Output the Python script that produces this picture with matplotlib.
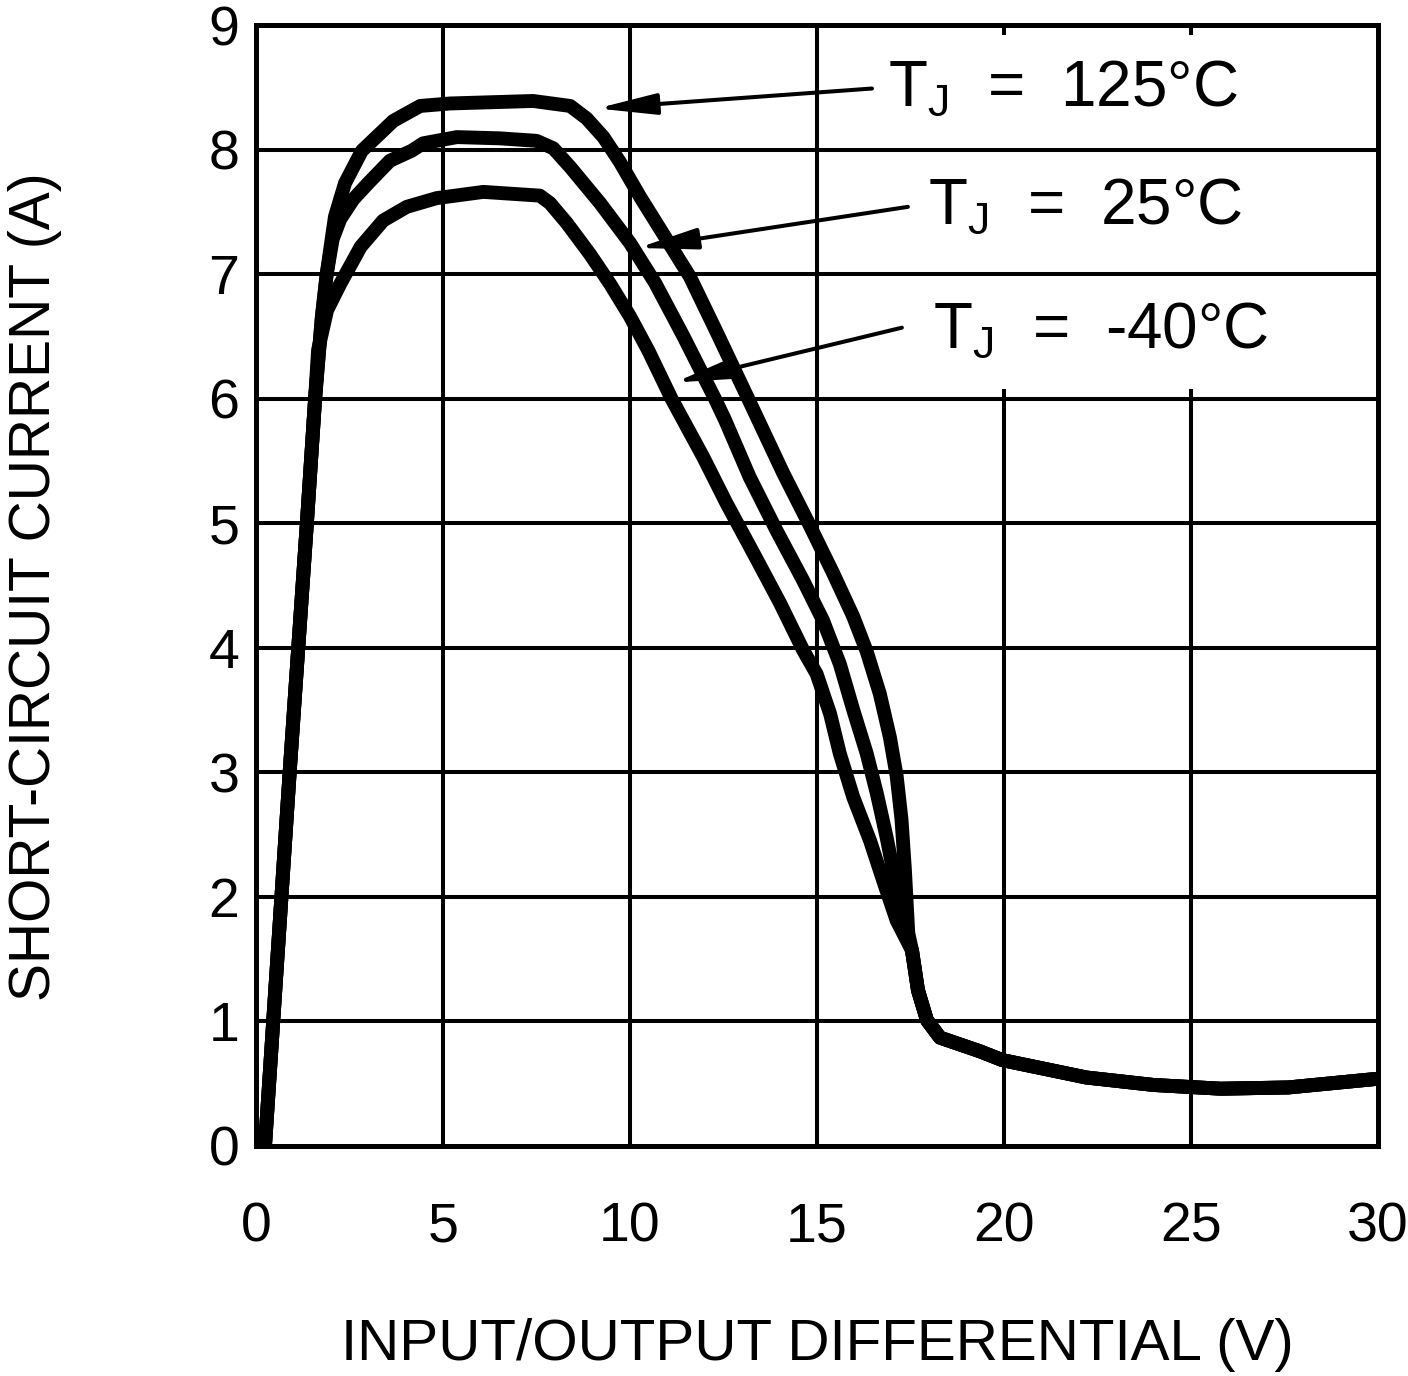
import matplotlib
matplotlib.use("Agg")
import matplotlib.pyplot as plt

plt.rcParams['font.family'] = ['Liberation Sans', 'DejaVu Sans']

# readings (V, A)
rise_x = [0.24, 0.46, 0.9, 1.36, 1.58]
rise_y = [0, 1, 3, 5, 6]

tail_x = [17.54, 17.7, 17.94, 18.29, 19.36, 19.95, 22.2, 24.0, 25.8, 27.6, 30.0]
tail_y = [1.57, 1.25, 1.01, 0.87, 0.76, 0.69, 0.55, 0.49, 0.46, 0.47, 0.54]

hot_x = [1.76, 1.89, 1.98, 2.11, 2.38, 2.83, 3.67, 4.39, 5.19, 7.41, 8.40, 8.84,
         9.29, 9.73, 10.27, 11.6, 12.34, 13.16, 14.1, 14.81, 15.43, 15.97,
         16.33, 16.68, 16.95, 17.13, 17.26, 17.35, 17.44]
hot_y = [6.65, 7.0, 7.19, 7.46, 7.73, 7.99, 8.23, 8.35, 8.37, 8.39, 8.35, 8.25,
         8.10, 7.90, 7.62, 6.98, 6.52, 6.0, 5.4, 4.98, 4.6, 4.25,
         3.97, 3.63, 3.28, 2.97, 2.62, 2.22, 1.71]

room_x = [1.76, 1.89, 2.05, 2.25, 2.6, 3.0, 3.58, 4.16, 4.47, 5.37, 6.52, 7.50,
          7.95, 8.40, 9.2, 10.0, 10.67, 11.43, 12.27, 12.54, 13.2, 13.92, 14.63,
          15.16, 15.61, 15.97, 16.33, 16.6, 16.86, 17.09, 17.26]
room_y = [6.65, 7.0, 7.28, 7.44, 7.6, 7.73, 7.91, 7.99, 8.05, 8.10, 8.09, 8.07,
          8.01, 7.86, 7.57, 7.25, 6.93, 6.5, 6.0, 5.83, 5.37, 4.94, 4.54,
          4.22, 3.87, 3.50, 3.15, 2.83, 2.48, 2.13, 1.81]

cold_x = [1.66, 1.9, 2.25, 2.8, 3.4, 4.03, 4.83, 6.08, 7.59, 7.86, 8.31,
          8.93, 9.47, 10.0, 10.5, 11.11, 11.96, 12.58, 13.3, 14.01, 14.63, 14.99,
          15.35, 15.61, 15.97, 16.42, 16.77, 17.13]
cold_y = [6.39, 6.71, 6.92, 7.22, 7.43, 7.54, 7.61, 7.66, 7.63, 7.57, 7.41,
          7.16, 6.92, 6.66, 6.38, 6.0, 5.53, 5.16, 4.76, 4.36, 3.98, 3.79,
          3.47, 3.15, 2.80, 2.45, 2.13, 1.81]

labels = ["T$_\\mathregular{J}$  =  125°C", "T$_\\mathregular{J}$  =  25°C",
          "T$_\\mathregular{J}$  =  -40°C"]

x_ticks = [0, 5, 10, 15, 20, 25, 30]
y_ticks = [0, 1, 2, 3, 4, 5, 6, 7, 8, 9]

fig = plt.figure(figsize=(14.08, 13.76), dpi=100)
ax = fig.add_axes([256 / 1408, 1 - 1146 / 1376, 1122 / 1408, 1121 / 1376])
ax.set_xlim(0, 30)
ax.set_ylim(0, 9)

# grid: the two right verticals are cut where the labels sit
ax.hlines(y_ticks[1:-1], 0, 30, color='black', lw=2.9, zorder=1)
ax.vlines([5, 10, 15], 0, 9, color='black', lw=2.9, zorder=1)
ax.vlines([20, 25], 0, 6.08, color='black', lw=2.9, zorder=1)
ax.vlines([20, 25], 8.92, 9, color='black', lw=2.9, zorder=1)

for cx, cy in [(hot_x, hot_y), (room_x, room_y), (cold_x, cold_y)]:
    ax.plot(rise_x + cx + tail_x, rise_y + cy + tail_y, color='black', lw=10,
            solid_joinstyle='round', solid_capstyle='butt', zorder=3)

arrow = dict(arrowstyle="-|>,head_length=1.8,head_width=0.32", color='black',
             lw=2.9, shrinkA=0, shrinkB=0, mutation_scale=20)
ax.annotate("", xy=(9.12, 8.33), xytext=(16.47, 8.49), arrowprops=arrow, zorder=4)
ax.annotate("", xy=(10.21, 7.21), xytext=(17.43, 7.54), arrowprops=arrow, zorder=4)
ax.annotate("", xy=(11.2, 6.13), xytext=(17.27, 6.57), arrowprops=arrow, zorder=4)

ax.text(16.9, 8.355, labels[0], fontsize=46, va='baseline', ha='left')
ax.text(17.97, 7.41, labels[1], fontsize=46, va='baseline', ha='left')
ax.text(18.1, 6.41, labels[2], fontsize=46, va='baseline', ha='left')

ax.set_xticks(x_ticks)
ax.set_yticks(y_ticks)
ax.tick_params(length=0, labelsize=40)
ax.tick_params(axis='x', pad=40)
ax.tick_params(axis='y', pad=12)
for s in ax.spines.values():
    s.set_linewidth(3.6)
    s.set_zorder(5)

fig.text(817 / 1408, 1 - 1345 / 1376, "INPUT/OUTPUT DIFFERENTIAL (V)", fontsize=42,
         ha='center', va='center')
fig.text(35 / 1408, 1 - 587 / 1376, "SHORT-CIRCUIT CURRENT (A)", fontsize=41,
         ha='center', va='center', rotation=90)

fig.savefig("out.png", dpi=100)
